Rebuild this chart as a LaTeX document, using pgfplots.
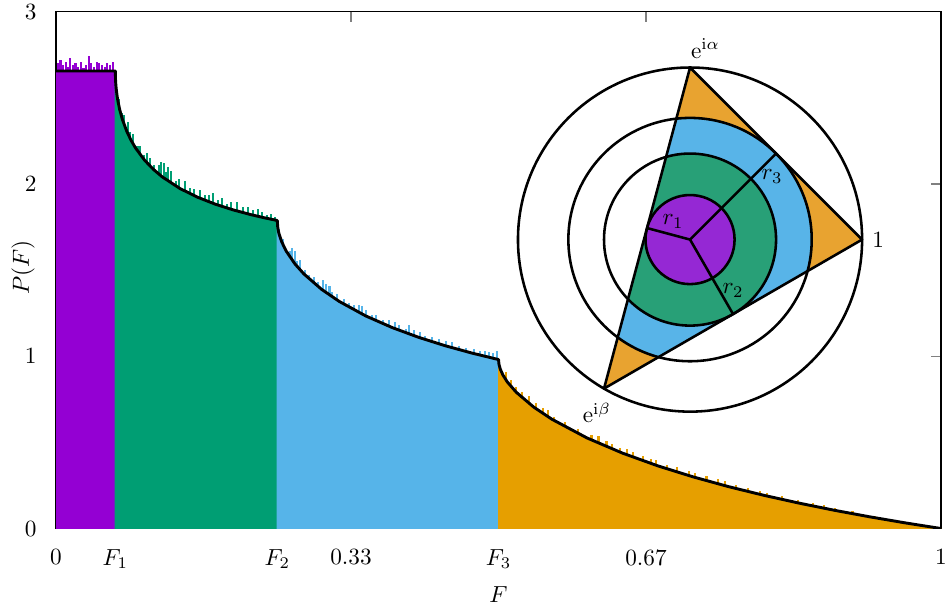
\documentclass[border=0pt]{standalone}
\usepackage{pgfplots}
\pgfplotsset{compat=1.18}
\definecolor{cpur}{HTML}{9400D3}
\definecolor{cgrn}{HTML}{009E73}
\definecolor{cblu}{HTML}{56B4E9}
\definecolor{corg}{HTML}{E69F00}
\definecolor{ipur}{HTML}{9528D4}
\definecolor{igrn}{HTML}{28A077}
\definecolor{iblu}{HTML}{58B4E8}
\definecolor{iorg}{HTML}{E8A330}
\begin{document}
\begin{tikzpicture}
\begin{axis}[name=main, scale only axis, width=380.6pt, height=222.3pt,
 xmin=0, xmax=1, ymin=0, ymax=3,
 xtick={0,0.333333,0.666667,1}, xticklabels={0,0.33,0.67,1},
 extra x ticks={0.066987,0.25,0.5}, extra x tick labels={$F_1$,$F_2$,$F_3$},
 extra x tick style={major tick length=0pt},
 ytick={0,1,2,3},
 xtick pos=right, xticklabel pos=left, ytick pos=right, yticklabel pos=left,
 tick align=inside, major tick length=4.3pt,
 xticklabel style={inner sep=0pt, anchor=north, yshift=-8.8pt},
 yticklabel style={inner sep=0pt, anchor=east, xshift=-8.25pt},
 xlabel={$F$}, ylabel={$P(F)$},
 xlabel style={at={(axis description cs:0.5,0)}, anchor=center, yshift=-28.6pt},
 ylabel style={at={(axis description cs:-0.0373,0.505)}, anchor=center},
 axis line style={line width=0.6pt},
 tick style={line width=0.6pt},
]
% filled regions under the curve
\addplot[fill=cpur, draw=cpur, line width=0.5pt] coordinates {(0,2.6556) (0.066987,2.6556)} \closedcycle;
\addplot[fill=cgrn, draw=cgrn, line width=0.5pt] coordinates {(0.066987,2.6556) (0.06725,2.6027) (0.0675,2.5818) (0.068,2.5521) (0.069,2.5105) (0.070,2.4789) (0.072,2.4299) (0.075,2.3741) (0.080,2.3047) (0.085,2.2512) (0.090,2.2074) (0.100,2.1382) (0.110,2.0846) (0.120,2.0410) (0.140,1.9735) (0.160,1.9227) (0.180,1.8824) (0.200,1.8495) (0.220,1.8220) (0.235,1.8039) (0.250,1.7877)} \closedcycle;
\addplot[fill=cblu, draw=cblu, line width=0.5pt] coordinates {(0.25,1.7877) (0.2505,1.7494) (0.25125,1.7268) (0.252,1.7102) (0.255,1.6639) (0.26,1.6109) (0.27,1.5355) (0.28,1.4779) (0.30,1.3884) (0.32,1.3181) (0.35,1.2338) (0.38,1.1660) (0.41,1.1092) (0.44,1.0605) (0.47,1.0182) (0.50,0.9807)} \closedcycle;
\addplot[fill=corg, draw=corg, line width=0.5pt] coordinates {(0.5,0.9807) (0.5005,0.9534) (0.502,0.9249) (0.505,0.8906) (0.51,0.8503) (0.52,0.7911) (0.54,0.7038) (0.56,0.6352) (0.60,0.5257) (0.64,0.4378) (0.68,0.3637) (0.72,0.2996) (0.76,0.2430) (0.80,0.1925) (0.84,0.1470) (0.88,0.1054) (0.92,0.0674) (0.96,0.0324) (1,0)} \closedcycle;
% histogram noise
\addplot[ycomb, cpur, line width=0.9pt, mark=none] coordinates {(0.002,2.70) (0.005,2.72) (0.008,2.69) (0.011,2.71) (0.013,2.68) (0.016,2.73) (0.019,2.69) (0.022,2.70) (0.025,2.68) (0.028,2.71) (0.031,2.67) (0.034,2.69) (0.037,2.74) (0.040,2.70) (0.043,2.68) (0.046,2.71) (0.049,2.70) (0.052,2.69) (0.055,2.68) (0.058,2.70) (0.061,2.69) (0.064,2.71)};
\addplot[ycomb, cgrn, line width=0.9pt, mark=none] coordinates {(0.071,2.49) (0.074,2.41) (0.077,2.40) (0.081,2.36) (0.083,2.30) (0.087,2.29) (0.092,2.22) (0.095,2.22) (0.099,2.165) (0.103,2.18) (0.106,2.15) (0.111,2.11) (0.116,2.11) (0.119,2.125) (0.122,2.124) (0.124,2.067) (0.127,2.097) (0.130,2.077) (0.136,2.018) (0.139,2.027) (0.146,2.018) (0.151,1.976) (0.156,1.973) (0.163,1.967) (0.168,1.937) (0.173,1.937) (0.177,1.948) (0.183,1.907) (0.188,1.919) (0.193,1.881) (0.198,1.893) (0.204,1.894) (0.211,1.864) (0.217,1.866) (0.223,1.848) (0.228,1.852) (0.233,1.836) (0.238,1.821) (0.243,1.825) (0.247,1.81)};
\addplot[ycomb, cblu, line width=0.9pt, mark=none] coordinates {(0.2515,1.74) (0.256,1.68) (0.264,1.61) (0.267,1.63) (0.270,1.61) (0.272,1.55) (0.276,1.56) (0.281,1.50) (0.286,1.47) (0.291,1.46) (0.296,1.43) (0.302,1.44) (0.305,1.42) (0.309,1.41) (0.312,1.37) (0.317,1.36) (0.325,1.33) (0.331,1.31) (0.337,1.30) (0.342,1.30) (0.346,1.29) (0.350,1.27) (0.357,1.24) (0.362,1.24) (0.369,1.21) (0.376,1.21) (0.383,1.20) (0.388,1.18) (0.395,1.16) (0.399,1.18) (0.404,1.15) (0.411,1.14) (0.417,1.12) (0.425,1.11) (0.433,1.10) (0.441,1.09) (0.447,1.08) (0.455,1.06) (0.463,1.05) (0.472,1.04) (0.479,1.03) (0.485,1.03) (0.489,1.025) (0.494,1.02) (0.498,1.03)};
\addplot[ycomb, corg, line width=0.9pt, mark=none] coordinates {(0.508,0.91) (0.514,0.86) (0.520,0.82) (0.527,0.79) (0.534,0.77) (0.542,0.73) (0.550,0.70) (0.556,0.69) (0.563,0.65) (0.575,0.62) (0.590,0.58) (0.605,0.54) (0.613,0.535) (0.622,0.51) (0.628,0.49) (0.637,0.47) (0.645,0.46) (0.652,0.445) (0.663,0.42) (0.672,0.405) (0.678,0.395) (0.690,0.37) (0.702,0.355) (0.715,0.335) (0.722,0.32) (0.735,0.305) (0.748,0.285) (0.756,0.275) (0.768,0.255) (0.782,0.236) (0.795,0.22) (0.803,0.208) (0.820,0.188) (0.838,0.168) (0.855,0.148) (0.868,0.134) (0.880,0.12) (0.900,0.099) (0.925,0.073)};
% exact curve
\addplot[black, line width=1.25pt, mark=none, line join=round] coordinates {(0,2.6556) (0.066987,2.6556) (0.06725,2.6027) (0.0675,2.5818) (0.068,2.5521) (0.069,2.5105) (0.070,2.4789) (0.072,2.4299) (0.075,2.3741) (0.080,2.3047) (0.085,2.2512) (0.090,2.2074) (0.100,2.1382) (0.110,2.0846) (0.120,2.0410) (0.140,1.9735) (0.160,1.9227) (0.180,1.8824) (0.200,1.8495) (0.220,1.8220) (0.235,1.8039) (0.250,1.7877) (0.2505,1.7494) (0.25125,1.7268) (0.252,1.7102) (0.255,1.6639) (0.26,1.6109) (0.27,1.5355) (0.28,1.4779) (0.30,1.3884) (0.32,1.3181) (0.35,1.2338) (0.38,1.1660) (0.41,1.1092) (0.44,1.0605) (0.47,1.0182) (0.50,0.9807) (0.5005,0.9534) (0.502,0.9249) (0.505,0.8906) (0.51,0.8503) (0.52,0.7911) (0.54,0.7038) (0.56,0.6352) (0.60,0.5257) (0.64,0.4378) (0.68,0.3637) (0.72,0.2996) (0.76,0.2430) (0.80,0.1925) (0.84,0.1470) (0.88,0.1054) (0.92,0.0674) (0.96,0.0324) (1,0)};
\coordinate (ic) at (axis cs:0.7164,1.677);
\end{axis}
\begin{axis}[at={(ic)}, anchor=center, scale only axis, width=148pt, height=148pt,
 xmin=-1, xmax=1, ymin=-1, ymax=1, hide axis, clip=false]
\begin{scope}
\clip (1,0) -- (0,1) -- (-0.5,-0.866025) -- cycle;
\fill[iorg] (-1,-1) rectangle (1,1);
\fill[iblu] (0,0) circle[radius=0.707107];
\fill[igrn] (0,0) circle[radius=0.5];
\end{scope}
\fill[ipur] (0,0) circle[radius=0.258819];
\draw[line width=1.1pt] (0,0) circle[radius=1];
\draw[line width=1.1pt] (0,0) circle[radius=0.707107];
\draw[line width=1.1pt] (0,0) circle[radius=0.5];
\draw[line width=1.1pt] (0,0) circle[radius=0.258819];
\draw[line width=1.1pt, line join=round] (1,0) -- (0,1) -- (-0.5,-0.866025) -- cycle;
\draw[line width=1.1pt] (-0.25,0.066987) -- (0,0) -- (0.25,-0.433013);
\draw[line width=1.1pt] (0,0) -- (0.5,0.5);
\node at (0.09,1.11) {$\mathrm{e}^{\mathrm{i}\alpha}$};
\node at (1.093,0) {$1$};
\node at (-0.541,-1.006) {$\mathrm{e}^{\mathrm{i}\beta}$};
\node at (-0.099,0.105) {$r_1$};
\node at (0.25,-0.297) {$r_2$};
\node at (0.477,0.366) {$r_3$};
\end{axis}
\path ([xshift=-24.1pt,yshift=-34pt]main.south west) rectangle ([xshift=3pt,yshift=5pt]main.north east);
\end{tikzpicture}
\end{document}
